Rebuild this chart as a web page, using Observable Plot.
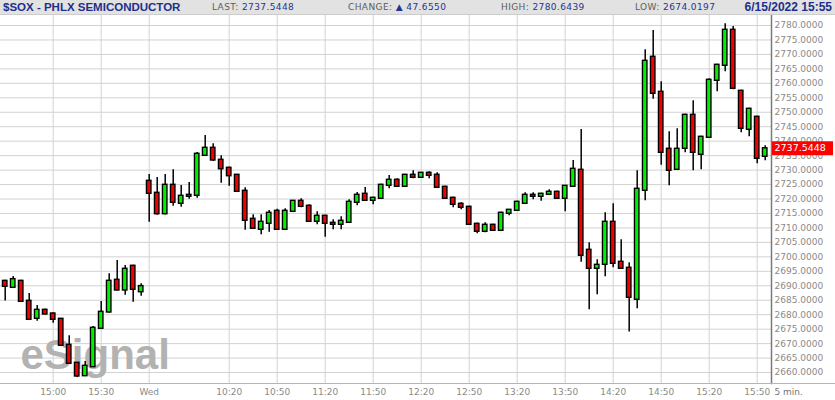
<!DOCTYPE html>
<html><head><meta charset="utf-8">
<script src="https://cdn.jsdelivr.net/npm/d3@7"></script>
<script src="https://cdn.jsdelivr.net/npm/@observablehq/plot@0.6"></script>
<style>
html,body{margin:0;padding:0;background:#fff;overflow:hidden;}
#wrap{position:relative;width:835px;height:400px;}
#hdr{position:relative;height:14px;background:#e2e2e2;border-bottom:1px solid #cdcdcd;font-family:"Liberation Sans",Arial,sans-serif;}
#hdr span{position:absolute;top:0;line-height:14px;white-space:nowrap;}
#hdr .t{font-weight:bold;font-size:11.5px;color:#1d2f8c;}
#hdr .k{font-family:"DejaVu Sans",sans-serif;font-size:9px;color:#5c5c5c;letter-spacing:0.4px;}
#hdr .v{color:#24358f;}
</style></head><body>
<div id="wrap">
  <div id="hdr"></div>
  <div id="chart"></div>
</div>
<script>
// ---- header texts ----
const symbolTitle = "$SOX - PHLX SEMICONDUCTOR";
const lastValue = "2737.5448";
const changeValue = "47.6550";
const highValue = "2780.6439";
const lowValue = "2674.0197";
const stamp = "6/15/2022 15:55";

// ---- candle times (5 min) ----
const tueTimes = ["14:30","14:35","14:40","14:45","14:50","14:55","15:00","15:05","15:10","15:15","15:20","15:25","15:30","15:35","15:40","15:45","15:50","15:55"];
const wedTimes = ["09:30","09:35","09:40","09:45","09:50","09:55","10:00","10:05","10:10","10:15","10:20","10:25","10:30","10:35","10:40","10:45","10:50","10:55",
"11:00","11:05","11:10","11:15","11:20","11:25","11:30","11:35","11:40","11:45","11:50","11:55","12:00","12:05","12:10","12:15","12:20","12:25",
"12:30","12:35","12:40","12:45","12:50","12:55","13:00","13:05","13:10","13:15","13:20","13:25","13:30","13:35","13:40","13:45","13:50","13:55",
"14:00","14:05","14:10","14:15","14:20","14:25","14:30","14:35","14:40","14:45","14:50","14:55","15:00","15:05","15:10","15:15","15:20","15:25",
"15:30","15:35","15:40","15:45","15:50","15:55"];

// ---- OHLC values ----
const opens = [2691.7,2689.3,2691.7,2684.8,2678.58,2681.7,2680.42,2678.58,2669.59,2663.37,2658.74,2661.85,2675.13,2680.76,2692.07,2688.37,2696.91,2687.78,
2726.3,2722.15,2714.75,2724.92,2718.35,2721.46,2721.11,2734.94,2737.71,2733.56,2730.8,2728.38,2722.84,2713.16,2709.36,2711.43,2715.93,2709.36,
2715.58,2719.38,2717.66,2712.12,2714.2,2711.78,2711.09,2711.78,2718.69,2721.81,2719.38,2720.08,2724.57,2726.65,2724.23,2728.38,2727.34,2729.07,
2728.38,2724.23,2720.42,2718.35,2717.31,2711.43,2708.67,2711.09,2709.01,2714.89,2715.93,2718.35,2721.46,2720.77,2721.46,2722.5,2720.08,2724.23,
2730.1,2702.44,2695.87,2697.25,2712.12,2698.29,2696.22,2685.15,2722.84,2769.18,2757.07,2737.37,2730.1,2737.37,2749.12,2735.29,2741.17,2760.88,
2766.07,2778.51,2757.42,2743.94,2748.43,2734.6];
const highs = [2691.9,2693.2,2691.9,2687.3,2683.18,2681.9,2680.6,2678.7,2672.7,2663.5,2663.82,2675.9,2684.56,2694.14,2698.74,2697.01,2697.1,2690.68,
2728.48,2727.44,2728.48,2730.1,2724.68,2725.71,2736.09,2741.96,2739.09,2734.94,2731.0,2728.5,2723.88,2714.54,2714.54,2716.03,2716.48,2716.6,
2719.5,2720.08,2718.0,2715.58,2714.4,2712.81,2713.85,2719.73,2722.26,2723.98,2720.6,2725.1,2728.13,2726.99,2728.5,2729.76,2729.2,2729.41,
2729.07,2724.4,2720.6,2718.69,2717.5,2711.6,2711.78,2711.3,2715.4,2716.4,2719.2,2722.15,2722.15,2722.0,2723.19,2722.7,2724.7,2733.32,
2744.04,2704.86,2698.98,2715.24,2718.35,2705.9,2697.95,2729.76,2771.6,2778.27,2760.53,2743.24,2744.28,2749.3,2753.96,2741.7,2761.57,2766.6,
2780.64,2779.65,2757.6,2751.4,2748.6,2738.4];
const lows = [2684.7,2689.2,2684.3,2678.1,2677.75,2679.9,2677.06,2669.1,2662.9,2658.3,2658.6,2661.7,2675.0,2680.6,2688.2,2686.74,2684.32,2686.4,
2711.99,2714.4,2714.6,2717.52,2717.17,2719.94,2720.28,2734.7,2733.1,2725.47,2724.43,2722.3,2709.22,2709.5,2707.63,2708.53,2709.2,2709.2,
2715.4,2716.97,2711.9,2711.09,2706.8,2709.36,2709.36,2711.6,2717.66,2719.2,2718.0,2719.9,2723.53,2724.0,2724.0,2726.99,2727.1,2726.99,
2723.7,2719.9,2716.97,2716.27,2710.9,2707.97,2708.32,2708.8,2708.8,2714.2,2715.7,2718.2,2719.73,2719.25,2721.3,2719.9,2715.58,2724.0,
2698.15,2681.69,2686.88,2693.11,2696.22,2695.7,2674.02,2682.04,2719.38,2754.52,2731.7,2724.57,2729.9,2735.98,2729.76,2730.1,2741.0,2757.07,
2763.99,2757.77,2742.9,2741.51,2732.18,2733.22];
const closes = [2689.65,2692.3,2684.46,2678.24,2681.69,2680.07,2678.24,2669.25,2663.02,2658.63,2662.33,2675.47,2681.0,2691.72,2688.37,2695.87,2688.61,2689.89,
2721.81,2714.75,2724.92,2718.69,2721.11,2720.77,2735.64,2737.71,2733.32,2730.31,2727.89,2722.5,2712.47,2709.7,2712.12,2715.24,2709.36,2715.93,
2719.38,2717.31,2712.12,2714.2,2711.43,2711.09,2712.47,2719.04,2721.46,2719.38,2720.42,2724.92,2726.65,2724.23,2728.38,2727.34,2729.07,2728.03,
2723.88,2720.08,2718.0,2716.97,2711.09,2708.67,2711.09,2709.01,2715.24,2716.27,2719.04,2721.46,2720.77,2721.81,2722.5,2720.08,2724.57,2730.45,
2700.37,2695.87,2697.25,2712.12,2697.6,2695.87,2685.84,2723.53,2767.79,2756.38,2735.98,2729.76,2737.37,2749.12,2735.98,2741.51,2761.22,2766.41,
2778.51,2758.11,2744.28,2751.2,2733.91,2737.5448];

// ---- axis ticks ----
const yTicks = [2660,2665,2670,2675,2680,2685,2690,2695,2700,2705,2710,2715,2720,2725,2730,2735,2740,2745,2750,2755,2760,2765,2770,2775,2780];
const xTickTimes = ["Tue 15:00","Tue 15:30","Wed 09:30","Wed 10:20","Wed 10:50","Wed 11:20","Wed 11:50","Wed 12:20","Wed 12:50","Wed 13:20","Wed 13:50","Wed 14:20","Wed 14:50","Wed 15:20","Wed 15:50"];
const xTickLabels = ["15:00","15:30","Wed","10:20","10:50","11:20","11:50","12:20","12:50","13:20","13:50","14:20","14:50","15:20","15:50"];
const intervalLabel = "5 min.";

// ---- build ----
const times = [...tueTimes.map(t => "Tue " + t), ...wedTimes.map(t => "Wed " + t)];
const candles = times.map((t, i) => ({i, t, open: opens[i], high: highs[i], low: lows[i], close: closes[i]}));
const xTickIdx = xTickTimes.map(t => times.indexOf(t));
const lastClose = closes[closes.length - 1];

const UP = "#00f000", DOWN = "#f00000";
const FONT = "'DejaVu Sans', sans-serif";

// header
const hdr = document.getElementById("hdr");
hdr.innerHTML =
  `<span class="t" style="left:3px">${symbolTitle}</span>` +
  `<span class="k" style="left:212px">LAST: <span class="v" style="position:static">${lastValue}</span></span>` +
  `<span class="k" style="left:348px">CHANGE: <span class="v" style="position:static">\u25B2 ${changeValue}</span></span>` +
  `<span class="k" style="left:501px">HIGH: <span class="v" style="position:static">${highValue}</span></span>` +
  `<span class="k" style="left:635px">LOW: <span class="v" style="position:static">${lowValue}</span></span>` +
  `<span class="t" style="right:3px;font-size:12px">${stamp}</span>`;

function stretchRule(values, opts, fromRight) {
  return Plot.ruleY(values, {
    ...opts,
    render(index, scales, vals, dims, ctx, next) {
      const g = next(index, scales, vals, dims, ctx);
      const x1 = fromRight ? dims.width - dims.marginRight + 1 : 0;
      const x2 = fromRight ? dims.width - 2 : dims.width;
      g.querySelectorAll("line").forEach(l => { l.setAttribute("x1", x1); l.setAttribute("x2", x2); });
      return g;
    }
  });
}

const yDomain = [2656.21, 2783.46];
const chart = Plot.plot({
  width: 835,
  height: 385,
  marginTop: 0,
  marginBottom: 17,
  marginLeft: 0,
  marginRight: 64,
  style: {fontFamily: FONT, fontSize: "9px", background: "white", overflow: "visible"},
  x: {type: "linear", domain: [-0.5875, 95.7875], label: null},
  y: {domain: yDomain, label: null},
  marks: [
    Plot.gridY(yTicks, {stroke: "#d2d2d2", strokeOpacity: 1}),
    Plot.gridX(xTickIdx, {stroke: "#d2d2d2", strokeOpacity: 1}),
    Plot.text(["eSignal"], {frameAnchor: "bottom-left", textAnchor: "start", lineAnchor: "middle", dx: 20, dy: -28, fontSize: 42, fontWeight: "bold", fontFamily: "'Liberation Sans', Arial, sans-serif", fill: "#b2b2b2"}),
    Plot.ruleX(candles, {x: "i", y1: "low", y2: "high", stroke: "black", strokeWidth: 1.5}),
    Plot.rect(candles, {x1: d => d.i - 0.28, x2: d => d.i + 0.28, y1: "open", y2: "close", fill: d => d.close >= d.open ? UP : DOWN, stroke: "black", strokeWidth: 1.4}),
    Plot.axisY(yTicks, {anchor: "right", label: null, tickSize: 0, tickPadding: 3, tickFormat: d => d.toFixed(4), color: "#8a8a8a", fontSize: 9, style: {letterSpacing: "0.3px"}}),
    Plot.axisX(xTickIdx, {anchor: "bottom", label: null, tickSize: 0, tickPadding: 5, tickFormat: d => xTickLabels[xTickIdx.indexOf(d)], color: "#8a8a8a", fontSize: 9}),
    Plot.frame({anchor: "right", stroke: "#7a7a7a", strokeWidth: 1.5}),
    stretchRule([yDomain[0]], {stroke: "#b5b5b5"}, false),
    stretchRule([lastClose], {stroke: "#ff0000", strokeWidth: 14}, true),
    Plot.text([lastClose], {y: d => d, text: d => d.toFixed(4), frameAnchor: "right", textAnchor: "start", dx: 3, fill: "white", fontSize: 9.5, style: {letterSpacing: "0.3px"}}),
    Plot.text([intervalLabel], {frameAnchor: "bottom-right", textAnchor: "start", lineAnchor: "middle", dx: 3, dy: 9, fill: "#777", fontSize: 9})
  ]
});
document.getElementById("chart").appendChild(chart);
</script>
</body></html>
